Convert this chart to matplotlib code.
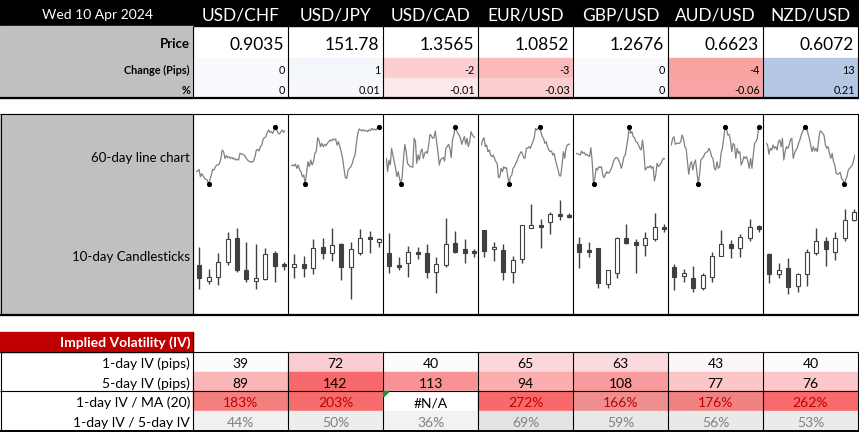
import matplotlib
matplotlib.use('Agg')
import matplotlib.pyplot as plt
from matplotlib.patches import Rectangle, Polygon
import numpy as np

# ---------------- data ----------------
date_label = 'Wed 10 Apr 2024'
pairs = ['USD/CHF', 'USD/JPY', 'USD/CAD', 'EUR/USD', 'GBP/USD', 'AUD/USD', 'NZD/USD']
prices = ['0.9035', '151.78', '1.3565', '1.0852', '1.2676', '0.6623', '0.6072']
change_pips = [0, 1, -2, -3, 0, -4, 13]
change_pct = [0, 0.01, -0.01, -0.03, 0, -0.06, 0.21]

iv_labels = ['1-day IV (pips)', '5-day IV (pips)', '1-day IV / MA (20)', '1-day IV / 5-day IV']
iv_1day = [39, 72, 40, 65, 63, 43, 40]
iv_5day = [89, 142, 113, 94, 108, 77, 76]
iv_ma20 = [183, 203, None, 272, 166, 176, 262]
iv_ratio = [44, 50, 36, 69, 59, 56, 53]

# 60-day line chart (relative levels)
spark_usdchf = [37,39,44,22,31,24,17,14,12,0,12,27,44,42,52,57,57,61,77,102,97,77,85,79,82,77,80,75,77,72,74,72,
                92,90,89,87,82,75,70,67,67,65,69,82,102,104,99,112,117,135,139,142,155,162,155,157,152,162,171,162,
                152,150,157,162,155,160]
spark_usdjpy = [55,57,54,60,47,57,42,37,22,27,0,32,67,52,72,57,67,92,97,139,132,112,122,112,119,115,122,127,132,
                129,135,132,135,117,127,112,97,77,47,19,17,42,47,52,62,77,87,122,152,165,162,159,163,159,161,157,
                162,160,167,162,165,162,167,171,170]
spark_usdcad = [77,37,72,57,107,87,67,47,22,37,17,0,22,77,119,97,62,57,52,52,50,137,129,62,87,72,97,105,77,92,97,
                92,117,149,145,137,139,159,127,97,57,72,77,79,69,107,112,119,107,79,132,147,171,162,152,147,137,119,
                132,142,119,137,112,127,157,147,142,139]
spark_eurusd = [117,132,139,112,117,97,102,87,82,87,77,67,62,19,22,47,37,52,47,49,22,0,22,27,47,52,62,69,82,89,97,
                92,79,77,107,107,112,107,117,127,139,167,162,167,171,157,142,137,122,127,112,102,97,99,87,92,72,57,
                42,25,24,57,97,77,107,117,119,120]
spark_gbpusd = [92,90,89,87,99,92,95,87,89,85,82,109,67,0,17,47,42,52,49,52,27,19,29,37,32,35,42,52,67,75,79,79,72,
                62,47,62,82,87,112,137,171,152,157,142,139,127,125,117,107,102,132,99,42,47,52,49,55,47,52,9,27,62,
                52,57,62,72,77,75]
spark_audusd = [117,137,142,119,122,122,122,127,147,137,112,107,67,29,57,67,42,62,72,37,0,27,72,77,82,92,95,97,107,
                99,82,77,47,42,67,47,52,92,107,137,171,167,147,149,132,97,122,117,77,107,92,97,57,67,82,77,82,67,47,
                77,47,87,122,127,137,171,165]
spark_nzdusd = [122,117,89,107,102,117,107,112,102,127,132,112,137,72,97,112,107,117,132,137,77,92,102,107,122,132,
                147,157,167,171,169,152,137,117,97,112,99,107,97,132,159,157,152,145,117,107,112,92,77,92,67,57,32,
                29,32,35,17,12,0,12,22,42,47,52,57,72,87]

# 10-day candlesticks (open, high, low, close) in relative levels
ohlc_usdchf = [(55,73,31,42),(39,51,36,43),(43,67,35,58),(58,88,55,81),(82,92,48,50),
               (50,78,38,41),(39,76,31,42),(41,72,40,66),(67,69,38,54),(56,58,50,54)]
ohlc_usdjpy = [(53,66,42,56),(56,64,43,52),(52,81,46,72),(73,82,61,67),(67,92,59,75),
               (76,77,40,53),(53,78,21,71),(67,91,65,82),(82,89,67,81),(78,82,73,81)]
ohlc_usdcad = [(67,87,47,54),(55,63,50,53),(57,74,43,68),(68,73,61,66),(67,76,42,48),
               (48,63,27,56),(55,102,53,76),(77,89,67,68),(71,81,57,67),(69,71,63,67)]
ohlc_eurusd = [(90,90,63,69),(71,78,59,73),(70,76,40,48),(48,64,37,60),(61,95,57,95),
               (92,116,92,95),(95,101,72,93),(98,108,86,106),(106,120,100,104),(105,107,102,103)]
ohlc_gbpusd = [(76,83,52,68),(70,78,63,68),(72,72,32,37),(36,50,32,50),(47,83,42,82),
               (82,96,76,77),(78,81,47,75),(75,88,64,82),(81,107,79,93),(93,96,88,91)]
ohlc_audusd = [(53,56,30,43),(44,51,38,47),(42,54,28,32),(32,47,30,45),(43,68,38,64),
               (64,90,64,76),(76,80,62,72),(72,86,63,83),(82,101,79,93),(94,95,88,91)]
ohlc_nzdusd = [(66,67,37,46),(46,57,42,50),(52,62,26,33),(34,47,28,46),(46,71,34,68),
               (67,92,65,79),(79,83,54,71),(68,88,60,82),(82,111,79,100),(100,111,99,108)]

sparks = [spark_usdchf, spark_usdjpy, spark_usdcad, spark_eurusd, spark_gbpusd, spark_audusd, spark_nzdusd]
candles = [ohlc_usdchf, ohlc_usdjpy, ohlc_usdcad, ohlc_eurusd, ohlc_gbpusd, ohlc_audusd, ohlc_nzdusd]

# ---------------- styles ----------------
change_colors = ['#F7F9FC', '#F3F6FB', '#FCCDCF', '#FBB9BA', '#F9FAFD', '#F9A2A2', '#B4C7E3']
pct_colors = ['#F8F9FC', '#F6F8FC', '#FDE8E9', '#FCCDCE', '#F9FAFD', '#F9A4A4', '#B4C7E3']
ma_colors = ['#F37F7F', '#F66C6C', '#FFFFFF', '#F8696B', '#EE8E8E', '#F08282', '#F86A6C']
ratio_colors = ['#F0F0F0', '#EDEDED', '#F2F2F2', '#E3E3E3', '#E8E8E8', '#E9E9E9', '#EBEBEB']

def iv_color(v, lo, hi):
    t = (v - lo) / (hi - lo)
    c0 = np.array([252, 252, 255]); c1 = np.array([248, 105, 107])
    c = c0 + t * (c1 - c0)
    return tuple(c / 255.0)

FONT = ['Lato', 'DejaVu Sans']
plt.rcParams['font.family'] = FONT

W, H = 859, 432
fig = plt.figure(figsize=(W / 100, H / 100), dpi=100)
ax = fig.add_axes([0, 0, 1, 1])
ax.set_xlim(0, W)
ax.set_ylim(H, 0)
ax.axis('off')

col_x = [193 + 95 * i for i in range(8)]
LW = 0.8

def hline(y, x0=0, x1=W, lw=LW):
    ax.plot([x0, x1], [y, y], color='black', lw=lw, solid_capstyle='butt', zorder=5)

def vline(x, y0, y1, lw=LW):
    ax.plot([x, x], [y0, y1], color='black', lw=lw, solid_capstyle='butt', zorder=5)

# ---- header ----
ax.add_patch(Rectangle((0, 0), W, 26, color='black', zorder=1))
ax.text(97, 19, date_label, color='white', fontsize=10, ha='center', va='baseline')
for i, p in enumerate(pairs):
    ax.text(col_x[i] + 47.5, 20.7, p, color='white', fontsize=12.5, ha='center', va='baseline')

# ---- price block ----
ax.add_patch(Rectangle((0, 26), 193, 72, color='#C0C0C0', zorder=1))
ax.text(190, 48.5, 'Price', fontsize=9.5, weight='bold', ha='right', va='baseline')
ax.text(190, 74, 'Change (Pips)', fontsize=7.8, weight='bold', ha='right', va='baseline')
ax.text(190, 94, '%', fontsize=7.8, weight='bold', ha='right', va='baseline')
for i in range(7):
    x0 = col_x[i]
    ax.add_patch(Rectangle((x0, 58), 95, 20, color=change_colors[i], zorder=1))
    ax.add_patch(Rectangle((x0, 78), 95, 20, color=pct_colors[i], zorder=1))
    ax.text(x0 + 91, 50, prices[i], fontsize=12.5, ha='right', va='baseline')
    ax.text(x0 + 92, 74, str(change_pips[i]), fontsize=7.8, ha='right', va='baseline')
    ax.text(x0 + 92, 94, f'{change_pct[i]:g}', fontsize=7.8, ha='right', va='baseline')
for x in col_x:
    vline(x, 26, 98)
hline(98, lw=1.6)

# ---- chart block ----
ax.add_patch(Rectangle((0, 114), 193, 201, color='#C0C0C0', zorder=1))
hline(114)
hline(315, lw=1.6)
vline(0.5, 114, 315)
for x in col_x:
    vline(x, 114, 315)
ax.text(190, 162, '60-day line chart', fontsize=9.5, ha='right', va='baseline')
ax.text(190, 261, '10-day Candlesticks', fontsize=9.5, ha='right', va='baseline')

def fig_rect(x0, y0, x1, y1):
    return [x0 / W, 1 - y1 / H, (x1 - x0) / W, (y1 - y0) / H]

for i in range(7):
    L = col_x[i]
    # sparkline
    s = np.array(sparks[i], dtype=float)
    sa = fig.add_axes(fig_rect(L + 3.3, 127, L + 92.0, 184))
    sa.set_facecolor('none')
    xs = np.arange(len(s))
    sa.plot(xs, s, color='#808080', lw=0.9)
    idx = np.where((s == s.max()) | (s == s.min()))[0]
    sa.plot(xs[idx], s[idx], 'o', color='black', ms=2.7, clip_on=False)
    sa.set_xlim(0, len(s) - 1)
    sa.set_ylim(s.min(), s.max())
    sa.axis('off')

    # candlesticks
    ca = fig.add_axes(fig_rect(L, 195, L + 95, 315))
    ca.set_facecolor('none')
    for j, (o, h, l, c) in enumerate(candles[i]):
        ca.vlines(j, l, h, color='#404040', lw=1.0, zorder=1)
        bottom = min(o, c)
        height = max(abs(c - o), 1.6)
        if c < o:
            ca.bar(j, height, bottom=bottom, width=0.42, color='#404040',
                   edgecolor='#404040', lw=0.8, zorder=2)
        else:
            ca.bar(j, height, bottom=bottom, width=0.42, color='white',
                   edgecolor='#404040', lw=0.8, zorder=2)
    ca.set_xlim(-0.67, 9.41)
    ca.set_ylim(5, 125)
    ca.axis('off')

# ---- implied volatility block ----
ax.add_patch(Rectangle((0, 332), 193, 20, color='#C00000', zorder=1))
ax.text(190, 347.3, 'Implied Volatility (IV)', color='white', fontsize=10, weight='bold',
        ha='right', va='baseline')
vline(193, 332, 352)

lo = min(iv_1day + iv_5day)
hi = max(iv_1day + iv_5day)
baselines = [367.7, 387.5, 407.3, 427.3]
for r, lab in enumerate(iv_labels):
    ax.text(190, baselines[r], lab, fontsize=10, ha='right', va='baseline')

for i in range(7):
    x0 = col_x[i]
    cx = x0 + 47.5
    ax.add_patch(Rectangle((x0, 352), 95, 20, color=iv_color(iv_1day[i], lo, hi), zorder=1))
    ax.add_patch(Rectangle((x0, 372), 95, 19, color=iv_color(iv_5day[i], lo, hi), zorder=1))
    ax.add_patch(Rectangle((x0, 391), 95, 20, color=ma_colors[i], zorder=1))
    ax.add_patch(Rectangle((x0, 411), 95, 20, color=ratio_colors[i], zorder=1))
    ax.text(cx, baselines[0], str(iv_1day[i]), fontsize=10, ha='center', va='baseline')
    ax.text(cx, baselines[1], str(iv_5day[i]), fontsize=10, ha='center', va='baseline')
    if iv_ma20[i] is None:
        ax.text(cx, baselines[2], '#N/A', fontsize=10, ha='center', va='baseline', color='black')
        ax.add_patch(Polygon([(x0 + 0.5, 391.5), (x0 + 6, 391.5), (x0 + 0.5, 397)],
                             closed=True, color='#1E8C3A', zorder=6))
    else:
        ax.text(cx, baselines[2], f'{iv_ma20[i]}%', fontsize=10, ha='center', va='baseline',
                color='#C00000')
    ax.text(cx, baselines[3], f'{iv_ratio[i]}%', fontsize=10, ha='center', va='baseline',
            color='#808080')

hline(352)
hline(391)
hline(431, lw=1.4)
vline(0.5, 352, 431)
for x in col_x:
    vline(x, 352, 431)

fig.savefig('out.png', dpi=100)
